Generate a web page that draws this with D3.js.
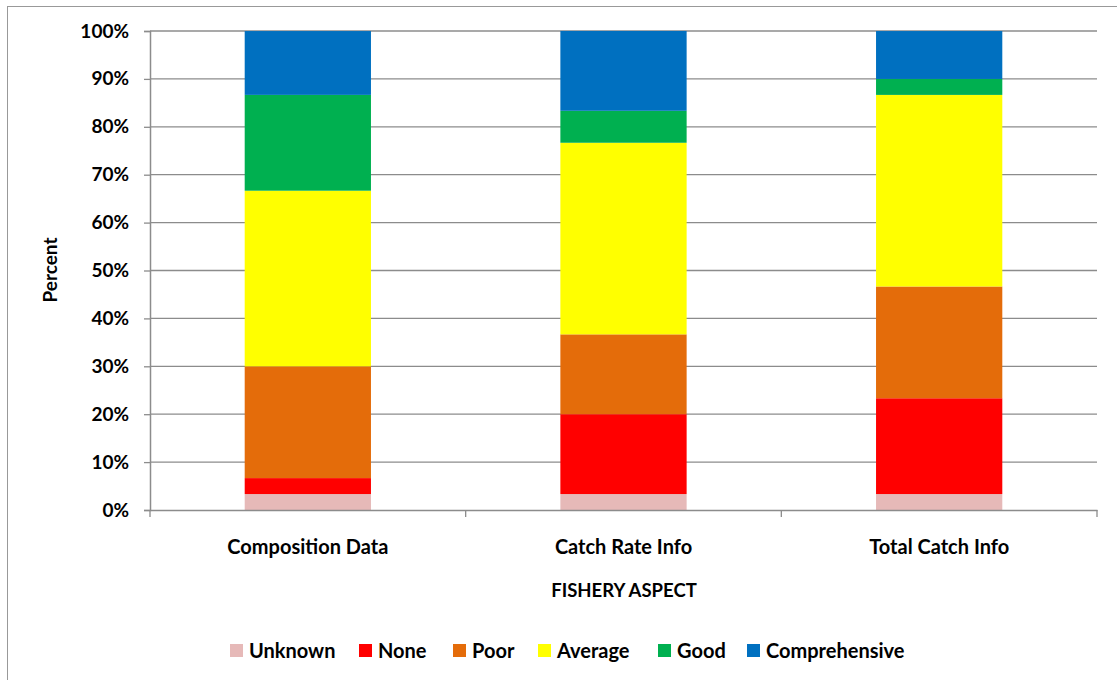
<!DOCTYPE html>
<html><head><meta charset="utf-8">
<script src="https://cdn.jsdelivr.net/npm/d3@7"></script>
<style>body{margin:0;background:#fff}svg{display:block}text{font-family:Lato,"Open Sans",sans-serif;font-weight:bold;fill:#000}</style>
</head><body><svg id="c" width="1117" height="680"></svg>
<script>
const categories = ["Composition Data", "Catch Rate Info", "Total Catch Info"];
const seriesNames = ["Unknown", "None", "Poor", "Average", "Good", "Comprehensive"];
const seriesColors = ["#E6B9B8", "#FF0000", "#E46C0A", "#FFFF00", "#00B050", "#0070C0"];
const unknownVals = [3.33, 3.33, 3.33];
const noneVals = [3.33, 16.67, 20.0];
const poorVals = [23.33, 16.67, 23.33];
const averageVals = [36.67, 40.0, 40.0];
const goodVals = [20.0, 6.67, 3.33];
const comprehensiveVals = [13.33, 16.67, 10.0];
const yTicks = [0, 10, 20, 30, 40, 50, 60, 70, 80, 90, 100];

const seriesVals = [unknownVals, noneVals, poorVals, averageVals, goodVals, comprehensiveVals];
const table = categories.map((c, i) => {
  const o = {cat: c};
  seriesNames.forEach((s, j) => o[s] = seriesVals[j][i]);
  return o;
});
const stacked = d3.stack().keys(seriesNames)(table);

const svg = d3.select("#c");
svg.append("rect").attr("x", 7.5).attr("y", 6.5).attr("width", 1130).attr("height", 690)
  .attr("fill", "none").attr("stroke", "#999").attr("stroke-width", 1);

const L = 150, R = 1097, T = 31, B = 510;
const x = d3.scaleBand().domain(categories).range([L, R]).paddingInner(0.6).paddingOuter(0.3);
const y = d3.scaleLinear().domain([0, 100]).range([B, T]);

// gridlines
svg.append("g").selectAll("line").data(yTicks.filter(d => d > 0)).join("line")
  .attr("x1", L).attr("x2", R).attr("y1", d => y(d)).attr("y2", d => y(d))
  .attr("stroke", "#8c8c8c").attr("stroke-width", 1.3);

// bars
svg.append("g").selectAll("g").data(stacked).join("g")
  .attr("fill", (d, i) => seriesColors[i])
  .selectAll("rect").data(d => d).join("rect")
  .attr("x", d => x(d.data.cat)).attr("width", x.bandwidth())
  .attr("y", d => y(d[1])).attr("height", d => y(d[0]) - y(d[1]));

// y axis
const ya = svg.append("g").attr("transform", `translate(${L},0)`)
  .call(d3.axisLeft(y).tickValues(yTicks).tickFormat(d => d + "%").tickSize(6).tickPadding(15));
ya.select(".domain").attr("stroke", "#8c8c8c").attr("stroke-width", 1.5);
ya.selectAll(".tick line").attr("stroke", "#8c8c8c").attr("stroke-width", 1.3);
ya.selectAll("text").style("font-size", "19px").style("font-family", "Lato").style("font-weight", "bold").attr("fill", "#000");

// x axis
const xa = svg.append("g").attr("transform", `translate(0,${B})`)
  .call(d3.axisBottom(x).tickSize(0));
xa.select(".domain").attr("stroke", "#8c8c8c").attr("stroke-width", 1.5);
xa.selectAll("text").attr("y", 44).attr("dy", 0)
  .style("font-size", "20px").style("font-family", "Lato").style("font-weight", "bold").attr("fill", "#000");
// category boundary ticks
const bounds = d3.range(categories.length + 1).map(i => L + i * (R - L) / categories.length);
svg.append("g").selectAll("line").data(bounds).join("line")
  .attr("x1", d => d).attr("x2", d => d).attr("y1", B).attr("y2", B + 7)
  .attr("stroke", "#8c8c8c").attr("stroke-width", 1.3);

// axis titles
svg.append("text").attr("transform", "translate(57,270) rotate(-90)").attr("text-anchor", "middle")
  .style("font-size", "19px").text("Percent");
svg.append("text").attr("x", 624).attr("y", 597).attr("text-anchor", "middle")
  .style("font-size", "18.5px").text("FISHERY ASPECT");

// legend
const legX = [230, 359, 453, 538, 658, 747];
const lg = svg.append("g").selectAll("g").data(seriesNames).join("g")
  .attr("transform", (d, i) => `translate(${legX[i]},644)`);
lg.append("rect").attr("width", 13).attr("height", 13).attr("fill", (d, i) => seriesColors[i]);
lg.append("text").attr("x", 19).attr("y", 14).style("font-size", "20px").text(d => d);
</script></body></html>
